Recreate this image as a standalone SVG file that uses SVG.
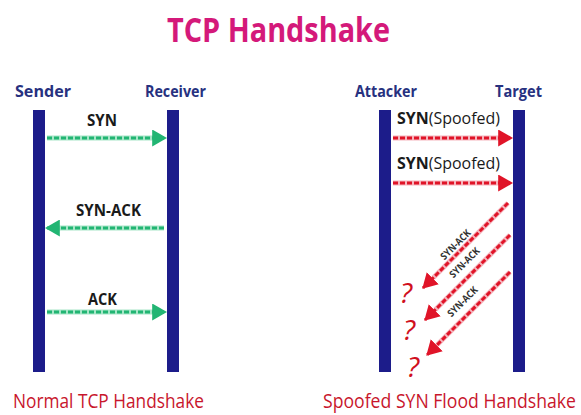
<svg xmlns="http://www.w3.org/2000/svg" width="581" height="415" viewBox="0 0 581 415">
<defs>
<style>
.t{font-family:"Open Sans","Liberation Sans",sans-serif;}
.title{font-size:34px;font-weight:bold;fill:#d4197a;}
.actor{font-size:16px;font-weight:bold;fill:#27317f;}
.msg{font-size:16px;font-weight:bold;fill:#1a1a1a;}
.msgn{font-size:16px;fill:#1a1a1a;}
.cap{font-size:18px;fill:#c8162c;}
.sa{font-size:10px;font-weight:bold;fill:#333;}
.q{font-size:28px;font-style:italic;fill:#d0101e;}
.bar{fill:#1c1c8a;}
.g{stroke:#22b573;stroke-width:3;stroke-dasharray:5 2;fill:none;}
.gl{stroke:#a8e6c8;stroke-width:5;fill:none;}
.r{stroke:#e01428;stroke-width:3;stroke-dasharray:5 2;fill:none;}
.rl{stroke:#f5b5bd;stroke-width:5;fill:none;}
</style>
<marker id="ga" viewBox="0 0 14 16" refX="13" refY="8" markerWidth="15" markerHeight="17" markerUnits="userSpaceOnUse" orient="auto"><path d="M0,0 L14,8 L0,16 z" fill="#22b573"/></marker>
<marker id="ra" viewBox="0 0 14 16" refX="13" refY="8" markerWidth="15" markerHeight="17" markerUnits="userSpaceOnUse" orient="auto"><path d="M0,0 L14,8 L0,16 z" fill="#e01428"/></marker>
</defs>
<rect width="581" height="415" fill="#fff"/>
<text class="t title" x="167" y="42" textLength="223" lengthAdjust="spacingAndGlyphs">TCP Handshake</text>

<g id="sender"><text class="t actor" x="15" y="97" textLength="56" lengthAdjust="spacingAndGlyphs">Sender</text><rect class="bar" x="33" y="110" width="12" height="262"/></g>
<g id="receiver"><text class="t actor" x="145" y="97" textLength="61" lengthAdjust="spacingAndGlyphs">Receiver</text><rect class="bar" x="167" y="110" width="12" height="262"/></g>
<g id="attacker"><text class="t actor" x="355" y="97" textLength="62" lengthAdjust="spacingAndGlyphs">Attacker</text><rect class="bar" x="379" y="110" width="12" height="262"/></g>
<g id="target"><text class="t actor" x="495" y="97" textLength="47" lengthAdjust="spacingAndGlyphs">Target</text><rect class="bar" x="513" y="110" width="12" height="262"/></g>

<g id="connectors">
<line class="gl" x1="47" y1="138" x2="155" y2="138"/>
<line class="g" x1="47" y1="138" x2="166" y2="138" marker-end="url(#ga)"/>
<text class="t msg" x="87" y="126" textLength="30" lengthAdjust="spacingAndGlyphs">SYN</text>

<line class="gl" x1="58" y1="228" x2="164" y2="228"/>
<line class="g" x1="164" y1="228" x2="46" y2="228" marker-end="url(#ga)"/>
<text class="t msg" x="76" y="216" textLength="65" lengthAdjust="spacingAndGlyphs">SYN-ACK</text>

<line class="gl" x1="47" y1="312" x2="155" y2="312"/>
<line class="g" x1="47" y1="312" x2="166" y2="312" marker-end="url(#ga)"/>
<text class="t msg" x="88" y="305" textLength="29" lengthAdjust="spacingAndGlyphs">ACK</text>

<line class="rl" x1="393" y1="138" x2="500" y2="138"/>
<line class="r" x1="393" y1="138" x2="512" y2="138" marker-end="url(#ra)"/>
<text class="t" x="397" y="124" textLength="103" lengthAdjust="spacingAndGlyphs"><tspan class="msg">SYN</tspan><tspan class="msgn">(Spoofed)</tspan></text>

<line class="rl" x1="393" y1="183" x2="500" y2="183"/>
<line class="r" x1="393" y1="183" x2="512" y2="183" marker-end="url(#ra)"/>
<text class="t" x="397" y="169" textLength="103" lengthAdjust="spacingAndGlyphs"><tspan class="msg">SYN</tspan><tspan class="msgn">(Spoofed)</tspan></text>

<line class="rl" x1="508" y1="203" x2="433" y2="278"/>
<line class="r" x1="508" y1="203" x2="423" y2="288" marker-end="url(#ra)"/>
<text class="t sa" transform="translate(458,247) rotate(-45)" text-anchor="middle" textLength="38" lengthAdjust="spacingAndGlyphs">SYN-ACK</text>

<line class="rl" x1="510" y1="235" x2="435" y2="310"/>
<line class="r" x1="510" y1="235" x2="425" y2="320" marker-end="url(#ra)"/>
<text class="t sa" transform="translate(467,265) rotate(-45)" text-anchor="middle" textLength="38" lengthAdjust="spacingAndGlyphs">SYN-ACK</text>

<line class="rl" x1="510" y1="272" x2="437" y2="345"/>
<line class="r" x1="510" y1="272" x2="427" y2="355" marker-end="url(#ra)"/>
<text class="t sa" transform="translate(465,304) rotate(-45)" text-anchor="middle" textLength="38" lengthAdjust="spacingAndGlyphs">SYN-ACK</text>
</g>

<text class="t q" x="400" y="303">?</text>
<text class="t q" x="403" y="340">?</text>
<text class="t q" x="407" y="377">?</text>

<text class="t cap" transform="translate(13,408) scale(1,1.12)" textLength="191" lengthAdjust="spacingAndGlyphs">Normal TCP Handshake</text>
<text class="t cap" transform="translate(323,408) scale(1,1.12)" textLength="253" lengthAdjust="spacingAndGlyphs">Spoofed SYN Flood Handshake</text>
</svg>
